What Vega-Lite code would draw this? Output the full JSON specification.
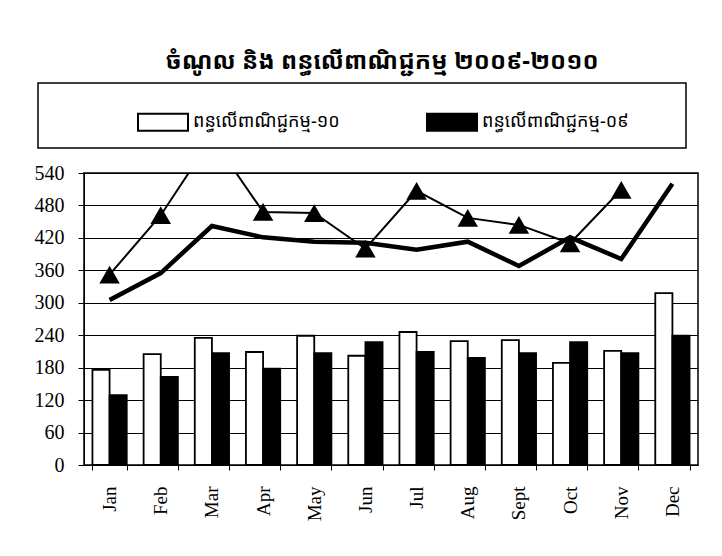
{
  "$schema": "https://vega.github.io/schema/vega-lite/v6.json",
  "width": 614,
  "height": 292,
  "autosize": {"type": "none"},
  "padding": {"left": 84, "top": 173, "right": 24, "bottom": 91},
  "background": "white",
  "title": {
    "text": "ចំណូល និង ពន្ធលើពាណិជ្ជកម្ម ២០០៩-២០១០",
    "font": "Noto Sans Khmer",
    "fontSize": 24,
    "fontWeight": "bold",
    "color": "black",
    "offset": 8,
    "dx": -9
  },
  "config": {
    "view": {"stroke": "black", "strokeWidth": 1.5},
    "axis": {
      "labelColor": "black",
      "domainColor": "black",
      "tickColor": "black",
      "labelFont": "Liberation Serif",
      "labelFontSize": 19,
      "title": null
    }
  },
  "datasets": {
    "bars": [
      {"month": "Jan", "series": "ពន្ធលើពាណិជ្ជកម្ម-១០", "value": 176},
      {"month": "Jan", "series": "ពន្ធលើពាណិជ្ជកម្ម-០៩", "value": 129},
      {"month": "Feb", "series": "ពន្ធលើពាណិជ្ជកម្ម-១០", "value": 205},
      {"month": "Feb", "series": "ពន្ធលើពាណិជ្ជកម្ម-០៩", "value": 163},
      {"month": "Mar", "series": "ពន្ធលើពាណិជ្ជកម្ម-១០", "value": 235},
      {"month": "Mar", "series": "ពន្ធលើពាណិជ្ជកម្ម-០៩", "value": 207},
      {"month": "Apr", "series": "ពន្ធលើពាណិជ្ជកម្ម-១០", "value": 209},
      {"month": "Apr", "series": "ពន្ធលើពាណិជ្ជកម្ម-០៩", "value": 178},
      {"month": "May", "series": "ពន្ធលើពាណិជ្ជកម្ម-១០", "value": 239},
      {"month": "May", "series": "ពន្ធលើពាណិជ្ជកម្ម-០៩", "value": 207},
      {"month": "Jun", "series": "ពន្ធលើពាណិជ្ជកម្ម-១០", "value": 202},
      {"month": "Jun", "series": "ពន្ធលើពាណិជ្ជកម្ម-០៩", "value": 227},
      {"month": "Jul", "series": "ពន្ធលើពាណិជ្ជកម្ម-១០", "value": 246},
      {"month": "Jul", "series": "ពន្ធលើពាណិជ្ជកម្ម-០៩", "value": 209},
      {"month": "Aug", "series": "ពន្ធលើពាណិជ្ជកម្ម-១០", "value": 229},
      {"month": "Aug", "series": "ពន្ធលើពាណិជ្ជកម្ម-០៩", "value": 198},
      {"month": "Sept", "series": "ពន្ធលើពាណិជ្ជកម្ម-១០", "value": 231},
      {"month": "Sept", "series": "ពន្ធលើពាណិជ្ជកម្ម-០៩", "value": 207},
      {"month": "Oct", "series": "ពន្ធលើពាណិជ្ជកម្ម-១០", "value": 189},
      {"month": "Oct", "series": "ពន្ធលើពាណិជ្ជកម្ម-០៩", "value": 227},
      {"month": "Nov", "series": "ពន្ធលើពាណិជ្ជកម្ម-១០", "value": 211},
      {"month": "Nov", "series": "ពន្ធលើពាណិជ្ជកម្ម-០៩", "value": 207},
      {"month": "Dec", "series": "ពន្ធលើពាណិជ្ជកម្ម-១០", "value": 318},
      {"month": "Dec", "series": "ពន្ធលើពាណិជ្ជកម្ម-០៩", "value": 239}
    ],
    "lines": [
      {"month": "Jan", "series": "ចំណូល-១០", "value": 352},
      {"month": "Feb", "series": "ចំណូល-១០", "value": 462},
      {"month": "Mar", "series": "ចំណូល-១០", "value": 605},
      {"month": "Apr", "series": "ចំណូល-១០", "value": 468},
      {"month": "May", "series": "ចំណូល-១០", "value": 466},
      {"month": "Jun", "series": "ចំណូល-១០", "value": 400},
      {"month": "Jul", "series": "ចំណូល-១០", "value": 507},
      {"month": "Aug", "series": "ចំណូល-១០", "value": 457},
      {"month": "Sept", "series": "ចំណូល-១០", "value": 444},
      {"month": "Oct", "series": "ចំណូល-១០", "value": 410},
      {"month": "Nov", "series": "ចំណូល-១០", "value": 509},
      {"month": "Jan", "series": "ចំណូល-០៩", "value": 305},
      {"month": "Feb", "series": "ចំណូល-០៩", "value": 355},
      {"month": "Mar", "series": "ចំណូល-០៩", "value": 442},
      {"month": "Apr", "series": "ចំណូល-០៩", "value": 421},
      {"month": "May", "series": "ចំណូល-០៩", "value": 413},
      {"month": "Jun", "series": "ចំណូល-០៩", "value": 411},
      {"month": "Jul", "series": "ចំណូល-០៩", "value": 398},
      {"month": "Aug", "series": "ចំណូល-០៩", "value": 413},
      {"month": "Sept", "series": "ចំណូល-០៩", "value": 368},
      {"month": "Oct", "series": "ចំណូល-០៩", "value": 421},
      {"month": "Nov", "series": "ចំណូល-០៩", "value": 381},
      {"month": "Dec", "series": "ចំណូល-០៩", "value": 520}
    ]
  },
  "encoding": {
    "x": {
      "field": "month",
      "type": "nominal",
      "sort": ["Jan", "Feb", "Mar", "Apr", "May", "Jun", "Jul", "Aug", "Sept", "Oct", "Nov", "Dec"],
      "scale": {"paddingInner": 0.33, "paddingOuter": 0.165},
      "axis": {"labelAngle": 270, "tickBand": "extent", "tickSize": 5, "labelPadding": 16, "grid": false}
    },
    "y": {
      "field": "value",
      "type": "quantitative",
      "scale": {"domain": [0, 540], "nice": false, "zero": true},
      "axis": {"values": [0, 60, 120, 180, 240, 300, 360, 420, 480, 540], "grid": true, "gridColor": "black", "gridWidth": 1, "gridOpacity": 1, "tickSize": 6, "labelPadding": 14, "labelFontSize": 20}
    }
  },
  "layer": [
    {
      "data": {"name": "bars"},
      "mark": {"type": "bar", "stroke": "black", "strokeWidth": 1.8},
      "encoding": {
        "xOffset": {"field": "series", "type": "nominal", "sort": ["ពន្ធលើពាណិជ្ជកម្ម-១០", "ពន្ធលើពាណិជ្ជកម្ម-០៩"]},
        "fill": {
          "field": "series",
          "type": "nominal",
          "scale": {"domain": ["ពន្ធលើពាណិជ្ជកម្ម-១០", "ពន្ធលើពាណិជ្ជកម្ម-០៩"], "range": ["white", "black"]},
          "legend": {
            "orient": "none",
            "legendX": -46,
            "legendY": -90,
            "direction": "horizontal",
            "columns": 2,
            "columnPadding": 0,
            "title": "\u00a0",
            "titleOrient": "right",
            "titlePadding": 44,
            "padding": 13,
            "strokeColor": "black",
            "symbolType": "M-1,-0.34H1V0.34H-1Z",
            "symbolSize": 2500,
            "symbolStrokeColor": "black",
            "symbolStrokeWidth": 2,
            "symbolOffset": 86,
            "labelFont": "Noto Sans Khmer",
            "labelFontSize": 18,
            "labelColor": "black",
            "labelOffset": 4,
            "labelLimit": 300,
            "encode": {"legend": {"update": {"strokeWidth": {"value": 1.5}}}}
          }
        }
      }
    },
    {
      "data": {"name": "lines"},
      "transform": [{"filter": "datum.series === 'ចំណូល-០៩'"}],
      "mark": {"type": "line", "color": "black", "strokeWidth": 4.5, "clip": true},
      "encoding": {}
    },
    {
      "data": {"name": "lines"},
      "transform": [{"filter": "datum.series === 'ចំណូល-១០'"}],
      "mark": {"type": "line", "color": "black", "strokeWidth": 2, "clip": true},
      "encoding": {}
    },
    {
      "data": {"name": "lines"},
      "transform": [{"filter": "datum.series === 'ចំណូល-១០'"}],
      "mark": {"type": "point", "shape": "triangle-up", "filled": true, "color": "black", "size": 420, "opacity": 1, "clip": true},
      "encoding": {}
    }
  ]
}
